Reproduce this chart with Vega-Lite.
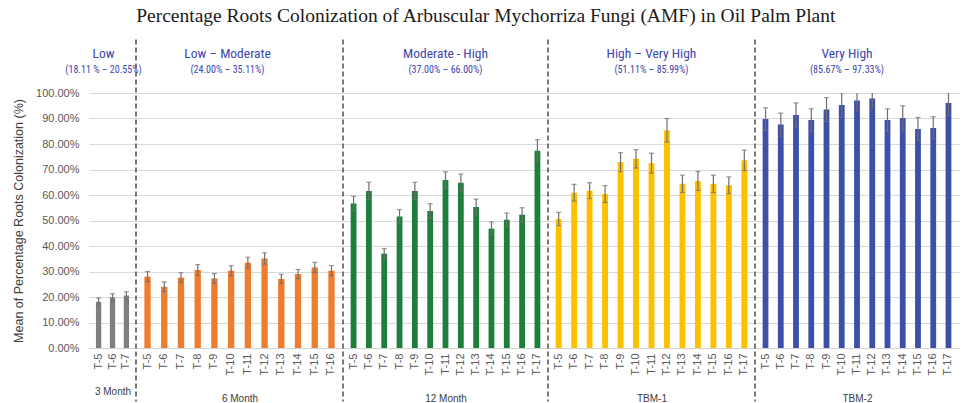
{
  "$schema": "https://vega.github.io/schema/vega-lite/v6.json",
  "padding": {"left": 12, "top": 6, "right": 2, "bottom": 0},
  "background": "white",
  "bounds": "flush",
  "title": {
    "text": "Percentage Roots Colonization of Arbuscular Mychorriza Fungi (AMF) in  Oil Palm Plant",
    "font": "Liberation Serif",
    "fontSize": 19.5,
    "fontWeight": "normal",
    "color": "#1a1a1a",
    "anchor": "middle",
    "offset": 12
  },
  "datasets": {
    "d": [
      {"g": "3 Month", "t": "T-5", "v": 18.11, "e": 1.5},
      {"g": "3 Month", "t": "T-6", "v": 19.9, "e": 1.4},
      {"g": "3 Month", "t": "T-7", "v": 20.55, "e": 1.5},
      {"g": "6 Month", "t": "T-5", "v": 28.0, "e": 2.0},
      {"g": "6 Month", "t": "T-6", "v": 24.0, "e": 1.9},
      {"g": "6 Month", "t": "T-7", "v": 27.6, "e": 1.9},
      {"g": "6 Month", "t": "T-8", "v": 30.6, "e": 2.1},
      {"g": "6 Month", "t": "T-9", "v": 27.3, "e": 1.9},
      {"g": "6 Month", "t": "T-10", "v": 30.3, "e": 2.0},
      {"g": "6 Month", "t": "T-11", "v": 33.5, "e": 2.1},
      {"g": "6 Month", "t": "T-12", "v": 35.11, "e": 2.2},
      {"g": "6 Month", "t": "T-13", "v": 27.1, "e": 1.8},
      {"g": "6 Month", "t": "T-14", "v": 29.0, "e": 1.8},
      {"g": "6 Month", "t": "T-15", "v": 31.6, "e": 2.0},
      {"g": "6 Month", "t": "T-16", "v": 30.3, "e": 2.0},
      {"g": "12 Month", "t": "T-5", "v": 56.7, "e": 2.8},
      {"g": "12 Month", "t": "T-6", "v": 61.6, "e": 3.4},
      {"g": "12 Month", "t": "T-7", "v": 37.0, "e": 2.0},
      {"g": "12 Month", "t": "T-8", "v": 51.6, "e": 2.7},
      {"g": "12 Month", "t": "T-9", "v": 61.6, "e": 3.4},
      {"g": "12 Month", "t": "T-10", "v": 53.7, "e": 2.9},
      {"g": "12 Month", "t": "T-11", "v": 65.9, "e": 3.2},
      {"g": "12 Month", "t": "T-12", "v": 64.8, "e": 3.4},
      {"g": "12 Month", "t": "T-13", "v": 55.3, "e": 3.1},
      {"g": "12 Month", "t": "T-14", "v": 46.8, "e": 2.6},
      {"g": "12 Month", "t": "T-15", "v": 50.3, "e": 2.6},
      {"g": "12 Month", "t": "T-16", "v": 52.3, "e": 2.7},
      {"g": "12 Month", "t": "T-17", "v": 77.4, "e": 4.3},
      {"g": "TBM-1", "t": "T-5", "v": 50.6, "e": 2.6},
      {"g": "TBM-1", "t": "T-6", "v": 60.9, "e": 3.3},
      {"g": "TBM-1", "t": "T-7", "v": 61.7, "e": 3.1},
      {"g": "TBM-1", "t": "T-8", "v": 60.4, "e": 3.3},
      {"g": "TBM-1", "t": "T-9", "v": 72.9, "e": 3.7},
      {"g": "TBM-1", "t": "T-10", "v": 74.2, "e": 3.6},
      {"g": "TBM-1", "t": "T-11", "v": 72.5, "e": 3.9},
      {"g": "TBM-1", "t": "T-12", "v": 85.4, "e": 4.6},
      {"g": "TBM-1", "t": "T-13", "v": 64.4, "e": 3.4},
      {"g": "TBM-1", "t": "T-14", "v": 65.5, "e": 3.7},
      {"g": "TBM-1", "t": "T-15", "v": 64.4, "e": 3.4},
      {"g": "TBM-1", "t": "T-16", "v": 63.8, "e": 3.3},
      {"g": "TBM-1", "t": "T-17", "v": 73.6, "e": 4.0},
      {"g": "TBM-2", "t": "T-5", "v": 89.8, "e": 4.4},
      {"g": "TBM-2", "t": "T-6", "v": 87.6, "e": 4.5},
      {"g": "TBM-2", "t": "T-7", "v": 91.4, "e": 4.7},
      {"g": "TBM-2", "t": "T-8", "v": 89.4, "e": 4.4},
      {"g": "TBM-2", "t": "T-9", "v": 93.5, "e": 4.7},
      {"g": "TBM-2", "t": "T-10", "v": 95.3, "e": 4.8},
      {"g": "TBM-2", "t": "T-11", "v": 97.1, "e": 4.0},
      {"g": "TBM-2", "t": "T-12", "v": 97.8, "e": 3.5},
      {"g": "TBM-2", "t": "T-13", "v": 89.4, "e": 4.4},
      {"g": "TBM-2", "t": "T-14", "v": 90.2, "e": 4.8},
      {"g": "TBM-2", "t": "T-15", "v": 85.9, "e": 4.5},
      {"g": "TBM-2", "t": "T-16", "v": 86.3, "e": 4.4},
      {"g": "TBM-2", "t": "T-17", "v": 96.1, "e": 4.8}
    ]
  },
  "spacing": 0,
  "hconcat": [
    {
      "width": 47, "height": 255,
      "layer": [
        {
          "data": {"name": "d"},
          "transform": [{"filter": "datum.g === '3 Month'"}],
          "mark": {"type": "bar", "color": "#7f7f7f"},
          "encoding": {
            "x": {"field": "t", "type": "nominal", "scale": {"domain": ["T-5","T-6","T-7"], "paddingInner": 0.62, "paddingOuter": 0.5},
                  "axis": {"title": "3 Month"}},
            "y": {"field": "v", "type": "quantitative", "scale": {"domain": [0, 100], "nice": false},
                  "title": "Mean of Percentage Roots Colonization (%)",
                  "axis": {"labelExpr": "format(datum.value, '.2f') + '%'", "labels": true, "tickCount": 10, "titlePadding": 10}}
          }
        },
        {
          "data": {"name": "d"},
          "transform": [{"filter": "datum.g === '3 Month'"}],
          "mark": {"type": "errorbar", "color": "#6f6f6f", "thickness": 1.2, "ticks": {"size": 5, "color": "#6f6f6f"}, "clip": true},
          "encoding": {
            "x": {"field": "t", "type": "nominal"},
            "y": {"field": "v", "type": "quantitative", "title": "Mean of Percentage Roots Colonization (%)"},
            "yError": {"field": "e"}
          }
        },
        {
          "data": {"values": [{"h": "Low", "r": "(18.11 % – 20.55%)"}]},
          "mark": {"type": "text", "font": "Roboto Condensed, Liberation Sans Narrow, Liberation Sans", "fontSize": 13.5, "color": "#3b46ad", "dy": -39, "dx": -9, "baseline": "middle"},
          "encoding": {"y": {"datum": 100}, "text": {"field": "h"}}
        },
        {
          "data": {"values": [{"h": "Low", "r": "(18.11 % – 20.55%)"}]},
          "mark": {"type": "text", "font": "Roboto Condensed, Liberation Sans Narrow, Liberation Sans", "fontSize": 10, "color": "#3b46ad", "dy": -23, "dx": -9, "baseline": "middle"},
          "encoding": {"y": {"datum": 100}, "text": {"field": "r"}}
        }
      ]
    },
    {
      "width": 207, "height": 255,
      "layer": [
        {
          "data": {"name": "d"},
          "transform": [{"filter": "datum.g === '6 Month'"}],
          "mark": {"type": "bar", "color": "#ED7D31"},
          "encoding": {
            "x": {"field": "t", "type": "nominal", "scale": {"domain": ["T-5","T-6","T-7","T-8","T-9","T-10","T-11","T-12","T-13","T-14","T-15","T-16"], "paddingInner": 0.62, "paddingOuter": 0.5},
                  "axis": {"title": "6 Month"}},
            "y": {"field": "v", "type": "quantitative", "scale": {"domain": [0, 100], "nice": false},
                  "axis": {"title": null, "labels": false, "tickCount": 10}}
          }
        },
        {
          "data": {"name": "d"},
          "transform": [{"filter": "datum.g === '6 Month'"}],
          "mark": {"type": "errorbar", "color": "#6f6f6f", "thickness": 1.2, "ticks": {"size": 5, "color": "#6f6f6f"}, "clip": true},
          "encoding": {
            "x": {"field": "t", "type": "nominal"},
            "y": {"field": "v", "type": "quantitative"},
            "yError": {"field": "e"}
          }
        },
        {
          "data": {"values": [{"s": "T-5"}]},
          "mark": {"type": "rule", "color": "#4d4d4d", "strokeWidth": 1.5, "strokeDash": [5, 3]},
          "encoding": {"x": {"field": "s", "type": "nominal", "bandPosition": -1.316}, "y": {"datum": 121}, "y2": {"datum": -21}}
        },
        {
          "data": {"values": [{"h": "Low – Moderate", "r": "(24.00% – 35.11%)"}]},
          "mark": {"type": "text", "font": "Roboto Condensed, Liberation Sans Narrow, Liberation Sans", "fontSize": 13.5, "color": "#3b46ad", "dy": -39, "dx": -12, "baseline": "middle"},
          "encoding": {"y": {"datum": 100}, "text": {"field": "h"}}
        },
        {
          "data": {"values": [{"h": "Low – Moderate", "r": "(24.00% – 35.11%)"}]},
          "mark": {"type": "text", "font": "Roboto Condensed, Liberation Sans Narrow, Liberation Sans", "fontSize": 10, "color": "#3b46ad", "dy": -23, "dx": -12, "baseline": "middle"},
          "encoding": {"y": {"datum": 100}, "text": {"field": "r"}}
        }
      ]
    },
    {
      "width": 205, "height": 255,
      "layer": [
        {
          "data": {"name": "d"},
          "transform": [{"filter": "datum.g === '12 Month'"}],
          "mark": {"type": "bar", "color": "#1d7f3a"},
          "encoding": {
            "x": {"field": "t", "type": "nominal", "scale": {"domain": ["T-5","T-6","T-7","T-8","T-9","T-10","T-11","T-12","T-13","T-14","T-15","T-16","T-17"], "paddingInner": 0.62, "paddingOuter": 0.5},
                  "axis": {"title": "12 Month"}},
            "y": {"field": "v", "type": "quantitative", "scale": {"domain": [0, 100], "nice": false},
                  "axis": {"title": null, "labels": false, "tickCount": 10}}
          }
        },
        {
          "data": {"name": "d"},
          "transform": [{"filter": "datum.g === '12 Month'"}],
          "mark": {"type": "errorbar", "color": "#6f6f6f", "thickness": 1.2, "ticks": {"size": 5, "color": "#6f6f6f"}, "clip": true},
          "encoding": {
            "x": {"field": "t", "type": "nominal"},
            "y": {"field": "v", "type": "quantitative"},
            "yError": {"field": "e"}
          }
        },
        {
          "data": {"values": [{"s": "T-5"}]},
          "mark": {"type": "rule", "color": "#4d4d4d", "strokeWidth": 1.5, "strokeDash": [5, 3]},
          "encoding": {"x": {"field": "s", "type": "nominal", "bandPosition": -1.316}, "y": {"datum": 121}, "y2": {"datum": -21}}
        },
        {
          "data": {"values": [{"h": "Moderate - High", "r": "(37.00% – 66.00%)"}]},
          "mark": {"type": "text", "font": "Roboto Condensed, Liberation Sans Narrow, Liberation Sans", "fontSize": 13.5, "color": "#3b46ad", "dy": -39, "baseline": "middle"},
          "encoding": {"y": {"datum": 100}, "text": {"field": "h"}}
        },
        {
          "data": {"values": [{"h": "Moderate - High", "r": "(37.00% – 66.00%)"}]},
          "mark": {"type": "text", "font": "Roboto Condensed, Liberation Sans Narrow, Liberation Sans", "fontSize": 10, "color": "#3b46ad", "dy": -23, "baseline": "middle"},
          "encoding": {"y": {"datum": 100}, "text": {"field": "r"}}
        }
      ]
    },
    {
      "width": 207, "height": 255,
      "layer": [
        {
          "data": {"name": "d"},
          "transform": [{"filter": "datum.g === 'TBM-1'"}],
          "mark": {"type": "bar", "color": "#FFC000"},
          "encoding": {
            "x": {"field": "t", "type": "nominal", "scale": {"domain": ["T-5","T-6","T-7","T-8","T-9","T-10","T-11","T-12","T-13","T-14","T-15","T-16","T-17"], "paddingInner": 0.62, "paddingOuter": 0.5},
                  "axis": {"title": "TBM-1"}},
            "y": {"field": "v", "type": "quantitative", "scale": {"domain": [0, 100], "nice": false},
                  "axis": {"title": null, "labels": false, "tickCount": 10}}
          }
        },
        {
          "data": {"name": "d"},
          "transform": [{"filter": "datum.g === 'TBM-1'"}],
          "mark": {"type": "errorbar", "color": "#6f6f6f", "thickness": 1.2, "ticks": {"size": 5, "color": "#6f6f6f"}, "clip": true},
          "encoding": {
            "x": {"field": "t", "type": "nominal"},
            "y": {"field": "v", "type": "quantitative"},
            "yError": {"field": "e"}
          }
        },
        {
          "data": {"values": [{"s": "T-5"}]},
          "mark": {"type": "rule", "color": "#4d4d4d", "strokeWidth": 1.5, "strokeDash": [5, 3]},
          "encoding": {"x": {"field": "s", "type": "nominal", "bandPosition": -1.316}, "y": {"datum": 121}, "y2": {"datum": -21}}
        },
        {
          "data": {"values": [{"h": "High – Very High", "r": "(51.11% – 85.99%)"}]},
          "mark": {"type": "text", "font": "Roboto Condensed, Liberation Sans Narrow, Liberation Sans", "fontSize": 13.5, "color": "#3b46ad", "dy": -39, "baseline": "middle"},
          "encoding": {"y": {"datum": 100}, "text": {"field": "h"}}
        },
        {
          "data": {"values": [{"h": "High – Very High", "r": "(51.11% – 85.99%)"}]},
          "mark": {"type": "text", "font": "Roboto Condensed, Liberation Sans Narrow, Liberation Sans", "fontSize": 10, "color": "#3b46ad", "dy": -23, "baseline": "middle"},
          "encoding": {"y": {"datum": 100}, "text": {"field": "r"}}
        }
      ]
    },
    {
      "width": 204, "height": 255,
      "layer": [
        {
          "data": {"name": "d"},
          "transform": [{"filter": "datum.g === 'TBM-2'"}],
          "mark": {"type": "bar", "color": "#3d4fa9"},
          "encoding": {
            "x": {"field": "t", "type": "nominal", "scale": {"domain": ["T-5","T-6","T-7","T-8","T-9","T-10","T-11","T-12","T-13","T-14","T-15","T-16","T-17"], "paddingInner": 0.62, "paddingOuter": 0.5},
                  "axis": {"title": "TBM-2"}},
            "y": {"field": "v", "type": "quantitative", "scale": {"domain": [0, 100], "nice": false},
                  "axis": {"title": null, "labels": false, "tickCount": 10}}
          }
        },
        {
          "data": {"name": "d"},
          "transform": [{"filter": "datum.g === 'TBM-2'"}],
          "mark": {"type": "errorbar", "color": "#6f6f6f", "thickness": 1.2, "ticks": {"size": 5, "color": "#6f6f6f"}, "clip": true},
          "encoding": {
            "x": {"field": "t", "type": "nominal"},
            "y": {"field": "v", "type": "quantitative"},
            "yError": {"field": "e"}
          }
        },
        {
          "data": {"values": [{"s": "T-5"}]},
          "mark": {"type": "rule", "color": "#4d4d4d", "strokeWidth": 1.5, "strokeDash": [5, 3]},
          "encoding": {"x": {"field": "s", "type": "nominal", "bandPosition": -1.316}, "y": {"datum": 121}, "y2": {"datum": -21}}
        },
        {
          "data": {"values": [{"h": "Very High", "r": "(85.67% – 97.33%)"}]},
          "mark": {"type": "text", "font": "Roboto Condensed, Liberation Sans Narrow, Liberation Sans", "fontSize": 13.5, "color": "#3b46ad", "dy": -39, "dx": -10, "baseline": "middle"},
          "encoding": {"y": {"datum": 100}, "text": {"field": "h"}}
        },
        {
          "data": {"values": [{"h": "Very High", "r": "(85.67% – 97.33%)"}]},
          "mark": {"type": "text", "font": "Roboto Condensed, Liberation Sans Narrow, Liberation Sans", "fontSize": 10, "color": "#3b46ad", "dy": -23, "dx": -10, "baseline": "middle"},
          "encoding": {"y": {"datum": 100}, "text": {"field": "r"}}
        }
      ]
    }
  ],
  "config": {
    "view": {"stroke": null},
    "font": "Liberation Sans",
    "axisY": {
      "grid": true, "gridColor": "#d9d9d9", "gridWidth": 1,
      "ticks": false, "domain": false,
      "labelFont": "Liberation Sans", "labelFontSize": 11, "labelColor": "#595959", "labelPadding": 10,
      "titleFont": "Liberation Sans", "titleFontSize": 12.5, "titleFontWeight": "normal", "titleColor": "#404040"
    },
    "axisX": {
      "grid": false, "ticks": false, "domain": true, "domainColor": "#d0d0d0", "domainWidth": 1,
      "labelAngle": -90, "labelFont": "Liberation Sans", "labelFontSize": 11, "labelColor": "#595959", "labelPadding": 5,
      "titleFont": "Liberation Sans", "titleFontSize": 10, "titleFontWeight": "normal", "titleColor": "#404040", "titlePadding": 18
    }
  }
}
